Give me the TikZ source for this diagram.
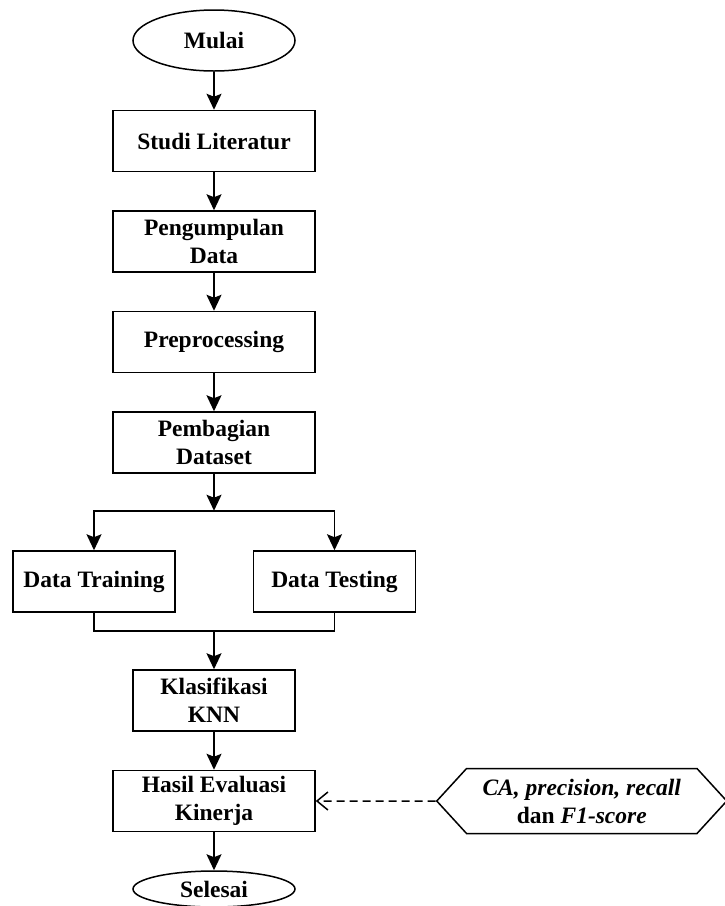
\documentclass[tikz,border=0pt]{standalone}
\usepackage{fontspec}
\setmainfont{Liberation Serif}
\usetikzlibrary{
    shapes,
    shapes.geometric,
    shapes.symbols,
    positioning,
    arrows.meta
}
\tikzset{
  basic/.style = {
      draw,
      line width=1.5pt,
      font=\fontsize{23.5}{28}\selectfont\bfseries,
      align=center,
      inner sep=2pt
  },
  proses/.style = {
      basic,
      rectangle,
      minimum width=202pt,
      minimum height=61pt
  },
  proses kecil/.style = {
      proses,
      minimum width=162pt
  },
  terminal/.style = {
      basic,
      ellipse,
      inner sep=0pt,
      minimum width=162pt,
      minimum height=61pt
  },
  keluaran/.style = {
      basic,
      signal,
      signal to=east and west,
      signal pointer angle=95,
      minimum width=290pt,
      minimum height=65pt
  },
  garis/.style = {
      line width=1.5pt
  },
  panah/.style = {
      garis,
      -{Stealth[length=16pt,width=15pt,inset=3pt]}
  },
  panah putus/.style = {
      garis,
      dash pattern=on 8pt off 5pt,
      -{Straight Barb[length=11pt,width=18pt]}
  }
}
\begin{document}
\begin{tikzpicture}[node distance=38pt]
        \useasboundingbox (0pt,0pt) rectangle (725pt,-906pt);
        \node[terminal] (mulai) at (214pt,-40.5pt) {Mulai};
        \node[proses, below=of mulai] (studi) {Studi Literatur};
        \node[proses, below=of studi] (pengumpulan) {Pengumpulan\\Data};
        \node[proses, below=of pengumpulan] (preprocessing) {Preprocessing};
        \node[proses, below=of preprocessing] (pembagian) {Pembagian\\Dataset};
        % Cabang
        \path (pembagian.south) -- ++(0pt,-37pt) coordinate (cabang);
        \node[proses kecil, below=39.5pt of cabang, xshift=-120pt] (training) {Data Training};
        \node[proses kecil, below=39.5pt of cabang, xshift=120.5pt] (testing) {Data Testing};
        % Gabung
        \path (training.south) -- ++(0pt,-18pt) coordinate (gabung kiri);
        \coordinate (gabung) at (gabung kiri -| pembagian.south);
        \node[proses kecil, below=38.5pt of gabung] (knn) {Klasifikasi\\KNN};
        \node[proses, below=of knn] (hasil) {Hasil Evaluasi\\Kinerja};
        \node[terminal, minimum height=36pt, below=of hasil] (selesai) {Selesai};
        % Label
        \node[keluaran, right=120pt of hasil] (metrik)
            {\textit{CA, precision, recall}\\dan \textit{F1-score}};
        % Edges
        \draw[panah] (mulai) -- (studi);
        \draw[panah] (studi) -- (pengumpulan);
        \draw[panah] (pengumpulan) -- (preprocessing);
        \draw[panah] (preprocessing) -- (pembagian);
        \draw[panah] (pembagian) -- (cabang);
        \draw[panah] (cabang) -| (training);
        \draw[panah] (cabang) -| (testing);
        \draw[garis] (training.south) -- (gabung kiri) -| (testing.south);
        \draw[panah] (gabung) -- (knn);
        \draw[panah] (knn) -- (hasil);
        \draw[panah] (hasil) -- (selesai);
        \draw[panah putus] (metrik) -- (hasil);
    \end{tikzpicture}
\end{document}
